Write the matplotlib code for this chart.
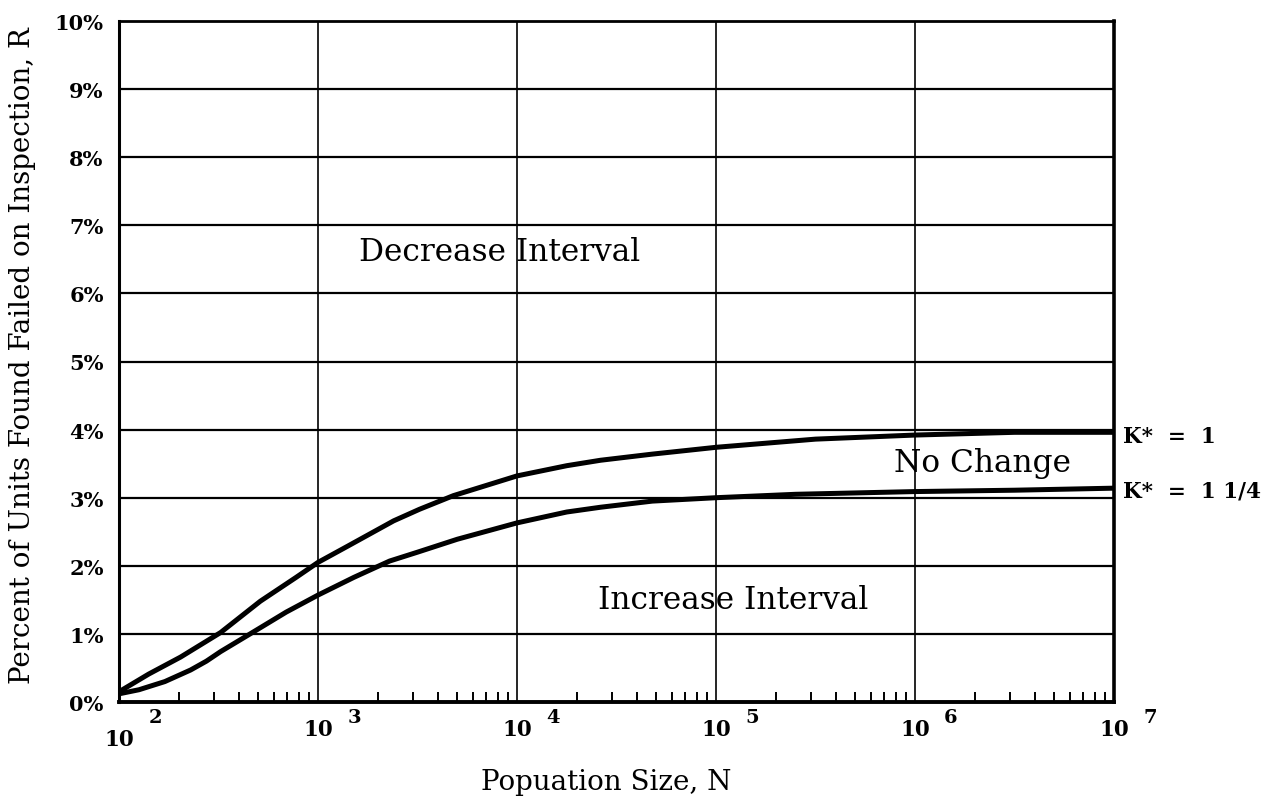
import matplotlib
matplotlib.use("Agg")
import matplotlib.pyplot as plt
import matplotlib.transforms as mtransforms
from matplotlib.ticker import LogLocator, NullFormatter

# ---- data ----
pop_k1 = [100, 141, 204, 324, 513, 776, 1000, 1413, 2399, 3236, 4786,
          10000, 17783, 26303, 47863, 100000, 316228, 1000000, 3162278, 10000000]
pct_k1 = [0.15, 0.41, 0.66, 1.02, 1.48, 1.83, 2.05, 2.29, 2.66, 2.83, 3.03,
          3.32, 3.47, 3.55, 3.64, 3.74, 3.86, 3.92, 3.96, 3.96]

pop_k125 = [100, 126, 170, 229, 275, 324, 468, 692, 1000, 1514, 2291, 3162, 5012,
            10000, 17783, 26303, 47863, 100000, 251189, 1000000, 3162278, 10000000]
pct_k125 = [0.12, 0.18, 0.30, 0.47, 0.60, 0.74, 1.02, 1.32, 1.57, 1.83, 2.07, 2.20, 2.39,
            2.63, 2.79, 2.86, 2.95, 3.00, 3.05, 3.09, 3.11, 3.14]

y_ticks = [0, 1, 2, 3, 4, 5, 6, 7, 8, 9, 10]
y_tick_labels = [f"{v}%" for v in y_ticks]
x_exponents = [2, 3, 4, 5, 6, 7]

curve_labels = ["K*  =  1", "K*  =  1 1/4"]
region_labels = ["Decrease Interval", "No Change", "Increase Interval"]
x_title = "Popuation Size, N"
y_title = "Percent of Units Found Failed on Inspection, R"

SERIF = ["DejaVu Serif"]

fig = plt.figure(figsize=(12.78, 8.04), dpi=100)
ax = fig.add_axes([119 / 1278, 1 - 703 / 804, 995 / 1278, 681 / 804])

ax.set_xscale("log")
ax.set_xlim(1e2, 1e7)
ax.set_ylim(0, 10)

# curves
ax.plot(pop_k1, pct_k1, color="black", lw=3.6, solid_capstyle="butt",
        solid_joinstyle="round", zorder=3)
ax.plot(pop_k125, pct_k125, color="black", lw=3.6, solid_capstyle="butt",
        solid_joinstyle="round", zorder=3)

# ticks and grid
ax.set_yticks(y_ticks)
ax.set_yticklabels(y_tick_labels, family=SERIF, fontsize=15, fontweight="bold")
ax.set_xticks([10.0 ** e for e in x_exponents])
ax.set_xticklabels([])
ax.xaxis.set_minor_locator(LogLocator(base=10, subs=range(2, 10), numticks=100))
ax.xaxis.set_minor_formatter(NullFormatter())
ax.tick_params(axis="y", length=0, pad=11)
ax.tick_params(axis="x", which="major", length=0)
ax.tick_params(axis="x", which="minor", direction="in", length=7, width=1.4, color="black")
for y in y_ticks[1:-1]:
    ax.axhline(y, color="black", lw=1.6, zorder=1)
for e in x_exponents[1:-1]:
    ax.axvline(10.0 ** e, color="black", lw=1.2, zorder=1)

for side, lw in [("left", 2.2), ("bottom", 2.8), ("right", 2.6), ("top", 2.0)]:
    ax.spines[side].set_linewidth(lw)
    ax.spines[side].set_color("black")

# x tick labels "10" with offset exponent
xtrans = ax.get_xaxis_transform()
t_exp = mtransforms.offset_copy(xtrans, fig=fig, x=36, y=0, units="dots")
for e in x_exponents:
    base_y = -0.054 if e == x_exponents[0] else -0.040
    ax.text(10.0 ** e, base_y, "10", transform=xtrans, ha="center", va="center",
            family=SERIF, fontsize=15.5, fontweight="bold", clip_on=False)
    ax.text(10.0 ** e, -0.022, str(e), transform=t_exp, ha="center", va="center",
            family=SERIF, fontsize=14, fontweight="bold", clip_on=False)

# curve labels at right
ytrans = ax.get_yaxis_transform()
ax.text(1.009, pct_k1[-1] - 0.05, curve_labels[0], transform=ytrans,
        ha="left", va="center", family=SERIF, fontsize=15.5, fontweight="bold", clip_on=False)
ax.text(1.009, pct_k125[-1] - 0.04, curve_labels[1], transform=ytrans,
        ha="left", va="center", family=SERIF, fontsize=15.5, fontweight="bold", clip_on=False)

# region labels
ax.text(8220, 6.62, region_labels[0], ha="center", va="center", family=SERIF, fontsize=22.5)
ax.text(2.19e6, 3.52, region_labels[1], ha="center", va="center", family=SERIF, fontsize=22.5)
ax.text(1.22e5, 1.51, region_labels[2], ha="center", va="center", family=SERIF, fontsize=22.5)

# axis titles
fig.text(606 / 1278, 1 - 783 / 804, x_title, ha="center", va="center", family=SERIF, fontsize=20)
fig.text(23 / 1278, 1 - 356 / 804, y_title, ha="center", va="center", rotation=90,
         family=SERIF, fontsize=20)

fig.savefig("out.png", dpi=100, facecolor="white")
